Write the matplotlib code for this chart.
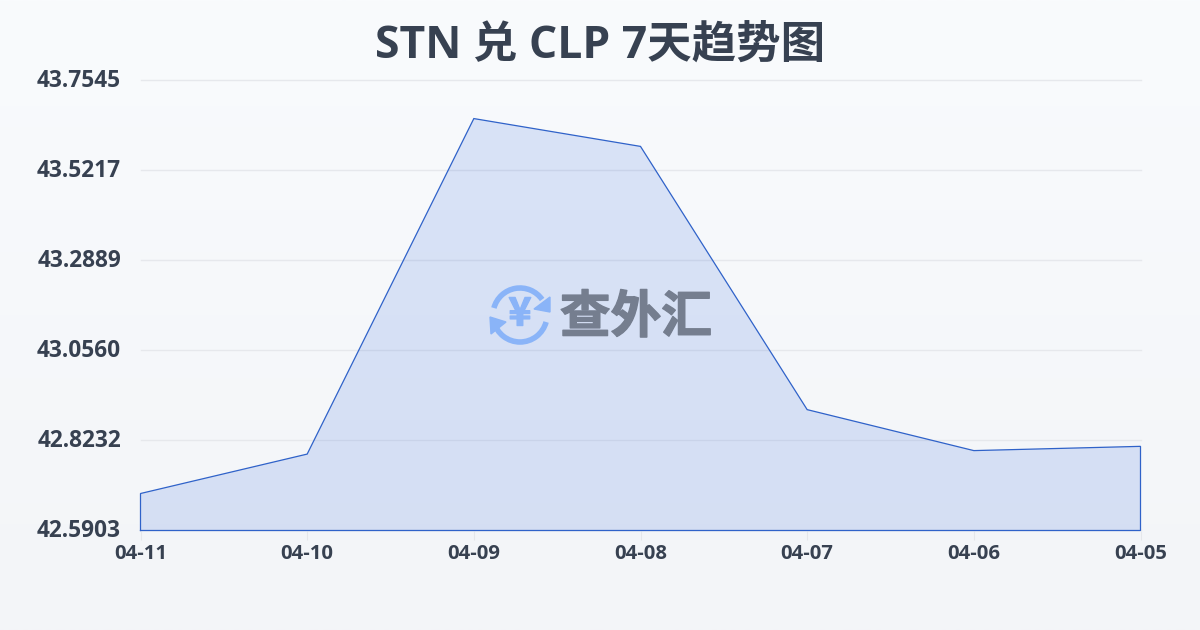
import numpy as np
import matplotlib
matplotlib.use("Agg")
import matplotlib.pyplot as plt
import matplotlib.patheffects as pe
from matplotlib.patches import Arc, Polygon
from matplotlib.transforms import offset_copy

FONTS = ['Open Sans', 'Noto Sans CJK SC', 'DejaVu Sans']
plt.rcParams['font.family'] = FONTS

dates = ['04-11', '04-10', '04-09', '04-08', '04-07', '04-06', '04-05']
rates = [42.686, 42.788, 43.656, 43.584, 42.903, 42.797, 42.808]
y_ticks = [42.5903, 42.8232, 43.0560, 43.2889, 43.5217, 43.7545]
y_labels = ['42.5903', '42.8232', '43.0560', '43.2889', '43.5217', '43.7545']
title = 'STN 兑 CLP 7天趋势图'

TEXT = '#374151'
W, H = 1200, 630
fig = plt.figure(figsize=(W / 100, H / 100), dpi=100)

# background gradient
bg = fig.add_axes([0, 0, 1, 1], zorder=0)
bg.axis('off')
top, bottom = np.array([0xf9, 0xfb, 0xfd]) / 255, np.array([0xf3, 0xf5, 0xf8]) / 255
t = np.linspace(0, 1, 256)[:, None, None]
bg.imshow(top + (bottom - top) * t, aspect='auto', extent=[0, 1, 0, 1])

# main plot
ax = fig.add_axes([140.5 / W, 1 - 530.5 / H, 1000 / W, 450 / H], zorder=1)
ax.patch.set_alpha(0)
x = np.arange(len(dates))
ax.set_xlim(x[0], x[-1])
ax.set_ylim(y_ticks[0], y_ticks[-1])
for s in ax.spines.values():
    s.set_visible(False)
ax.grid(axis='y', color='#e6e8ec', lw=1, clip_on=False)
ax.set_axisbelow(True)
ax.fill_between(x, rates, y_ticks[0], facecolor='#2860dc', alpha=0.15, lw=0, zorder=2)
ax.plot(np.r_[x[0], x, x[-1], x[0]], np.r_[y_ticks[0], rates, y_ticks[0], y_ticks[0]],
        color='#2f62c9', lw=0.9, solid_joinstyle='miter', clip_on=False, zorder=3)

ax.set_xticks(x, dates, fontsize=14.6, fontweight='bold', color=TEXT)
ax.set_yticks(y_ticks, y_labels, fontsize=16.3, fontweight='bold', color=TEXT)
ax.tick_params(axis='x', length=6.5, width=0.8, color='#e5e7eb', pad=3.5)
ax.tick_params(axis='y', length=0, pad=14)
for lab in ax.get_yticklabels():
    lab.set_transform(offset_copy(lab.get_transform(), fig=fig, y=1.5, units='points'))

fig.text(0.5, 1 - 46 / H, title, ha='center', va='center', fontsize=32,
         fontweight='bold', color=TEXT)

# watermark in pixel coordinates
ov = fig.add_axes([0, 0, 1, 1], zorder=5)
ov.axis('off')
ov.set_xlim(0, W)
ov.set_ylim(H, 0)
BLUE = '#8ab4f8'
GREY = '#757e8f'
cx, cy, r = 520, 315, 27
ov.add_patch(Arc((cx, cy), 2 * r, 2 * r, theta1=195, theta2=325, color=BLUE, lw=4))
ov.add_patch(Arc((cx, cy), 2 * r, 2 * r, theta1=15, theta2=165, color=BLUE, lw=4))
ov.add_patch(Polygon([(550, 297), (550, 312), (534, 309)], closed=True, fc=BLUE, ec=BLUE, lw=1))
ov.add_patch(Polygon([(490, 317), (506, 322), (491, 334)], closed=True, fc=BLUE, ec=BLUE, lw=1))
ov.text(cx, cy - 1, '¥', ha='center', va='center', fontsize=28, fontweight='bold', color=BLUE,
        family=['Noto Sans CJK SC', 'DejaVu Sans'],
        path_effects=[pe.withStroke(linewidth=1, foreground=BLUE)])
ov.text(636, 318, '查外汇', ha='center', va='center', fontsize=36.5, fontweight='bold',
        color=GREY, family=['Noto Sans CJK SC', 'DejaVu Sans'],
        path_effects=[pe.withStroke(linewidth=1, foreground=GREY)])

fig.savefig('out.png', dpi=100)
